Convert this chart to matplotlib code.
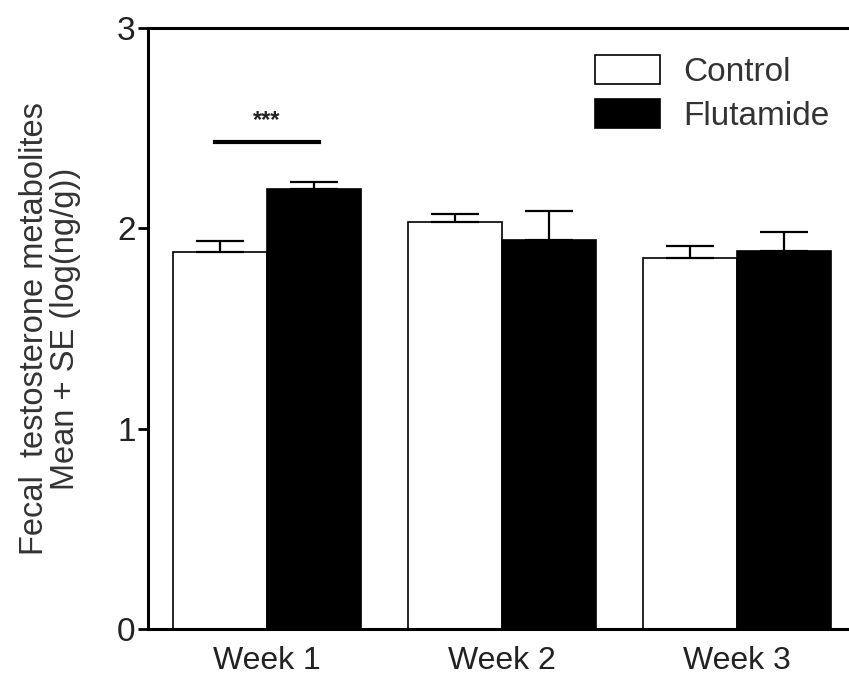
import numpy as np
import matplotlib
matplotlib.use('Agg')
from matplotlib import pyplot as plt

plt.rcParams['font.family'] = ['Liberation Sans', 'DejaVu Sans']

weeks = ['Week 1', 'Week 2', 'Week 3']
control = [1.88, 2.03, 1.85]
control_se = [0.055, 0.04, 0.06]
flutamide = [2.195, 1.94, 1.885]
flutamide_se = [0.035, 0.145, 0.095]
sig_height = 2.43
sig_label = '***'

fig = plt.figure(figsize=(8.49, 6.79), dpi=100)
ax = fig.add_axes([148 / 849, 50 / 679, 1 - 148 / 849, 601 / 679])

x = np.arange(len(weeks))
w = 0.4
ax.bar(x - w / 2, control, w, color='white', edgecolor='black', linewidth=1.2, label='Control')
ax.bar(x + w / 2, flutamide, w, color='black', edgecolor='black', linewidth=1.2, label='Flutamide')
ax.errorbar(x - w / 2, control, yerr=[np.zeros(3), control_se], fmt='none',
            ecolor='black', elinewidth=1.6, capsize=17, capthick=1.6)
ax.errorbar(x + w / 2, flutamide, yerr=[np.zeros(3), flutamide_se], fmt='none',
            ecolor='black', elinewidth=1.6, capsize=17, capthick=1.6)

# significance marker for week 1
ax.plot([x[0] - 0.22, x[0] + 0.22], [sig_height, sig_height], color='black', lw=3)
ax.text(x[0], sig_height + 0.05, sig_label, ha='center', va='bottom', fontsize=17, fontweight='bold',
        color='#222222')

ax.set_xlim(-0.506, 2.476)
ax.set_ylim(0, 3)
ax.set_yticks([0, 1, 2, 3])
ax.set_xticks(x)
ax.set_xticklabels(weeks)
ax.tick_params(axis='y', length=7, width=2, labelsize=24, pad=2, colors='black', labelcolor='#222222')
ax.tick_params(axis='x', length=0, labelsize=23, pad=12, labelcolor='#222222')
ax.spines['right'].set_visible(False)
for s in ['left', 'top', 'bottom']:
    ax.spines[s].set_linewidth(2.2)

ax.set_ylabel('Fecal  testosterone metabolites\nMean + SE (log(ng/g))', fontsize=23.5,
              color='#333333', labelpad=26, linespacing=1.0)

ax.legend(loc='upper left', bbox_to_anchor=(595 / 849, 1 - 55 / 679), bbox_transform=fig.transFigure,
          frameon=False, fontsize=24, handlelength=1.95, handleheight=0.95, handletextpad=0.7,
          labelspacing=0.35, borderpad=0, borderaxespad=0, labelcolor='#333333')

plt.savefig('out.png', dpi=100)
